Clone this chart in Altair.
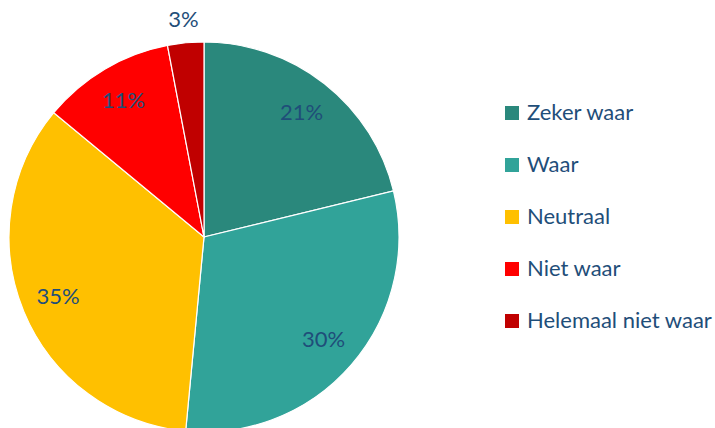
import altair as alt
import pandas as pd

categories = ["Zeker waar", "Waar", "Neutraal", "Niet waar", "Helemaal niet waar"]
values = [21.2, 30.3, 34.5, 11.0, 3.0]
labels = ["21%", "30%", "35%", "11%", "3%"]
colors = ["#2A887C", "#31A399", "#FFC000", "#FF0000", "#C00000"]

df = pd.DataFrame({
    "cat": categories,
    "val": values,
    "label": labels,
    "idx": list(range(len(categories))),
})

CX, CY, R = 204, 237, 195

arcs = alt.Chart(df).mark_arc(outerRadius=R, stroke="white", strokeWidth=1.2).encode(
    theta=alt.Theta("val:Q", stack=True),
    order=alt.Order("idx:Q"),
    x=alt.value(CX),
    y=alt.value(CY),
    color=alt.Color(
        "cat:N",
        scale=alt.Scale(domain=categories, range=colors),
        sort=categories,
        legend=alt.Legend(
            title=None,
            orient="none",
            legendX=501,
            legendY=102,
            symbolType="square",
            symbolSize=196,
            symbolStrokeWidth=0,
            labelFontSize=22,
            labelFont="Lato",
            labelColor="#1F4E79",
            labelOffset=4,
            rowPadding=30,
            labelLimit=300,
        ),
    ),
)

text = alt.Chart(df).transform_window(
    cum="sum(val)", sort=[alt.SortField("idx")], frame=[None, 0]
).transform_joinaggregate(
    total="sum(val)"
).transform_calculate(
    ang=f"2*PI*(datum.cum - datum.val/2)/datum.total",
    lr="datum.val < 5 ? 218 : 158",
).transform_calculate(
    px=f"{CX} + datum.lr*sin(datum.ang)",
    py=f"{CY} - datum.lr*cos(datum.ang)",
).mark_text(fontSize=22, font="Lato", color="#1F4E79", baseline="middle").encode(
    x=alt.X("px:Q", scale=None),
    y=alt.Y("py:Q", scale=None),
    text="label:N",
)

chart = (arcs + text).properties(
    width=715, height=428, padding=0,
    autosize=alt.AutoSizeParams(type="none"),
).configure_view(stroke=None)

chart.save("out.html", embed_options={"renderer": "svg", "actions": False})
